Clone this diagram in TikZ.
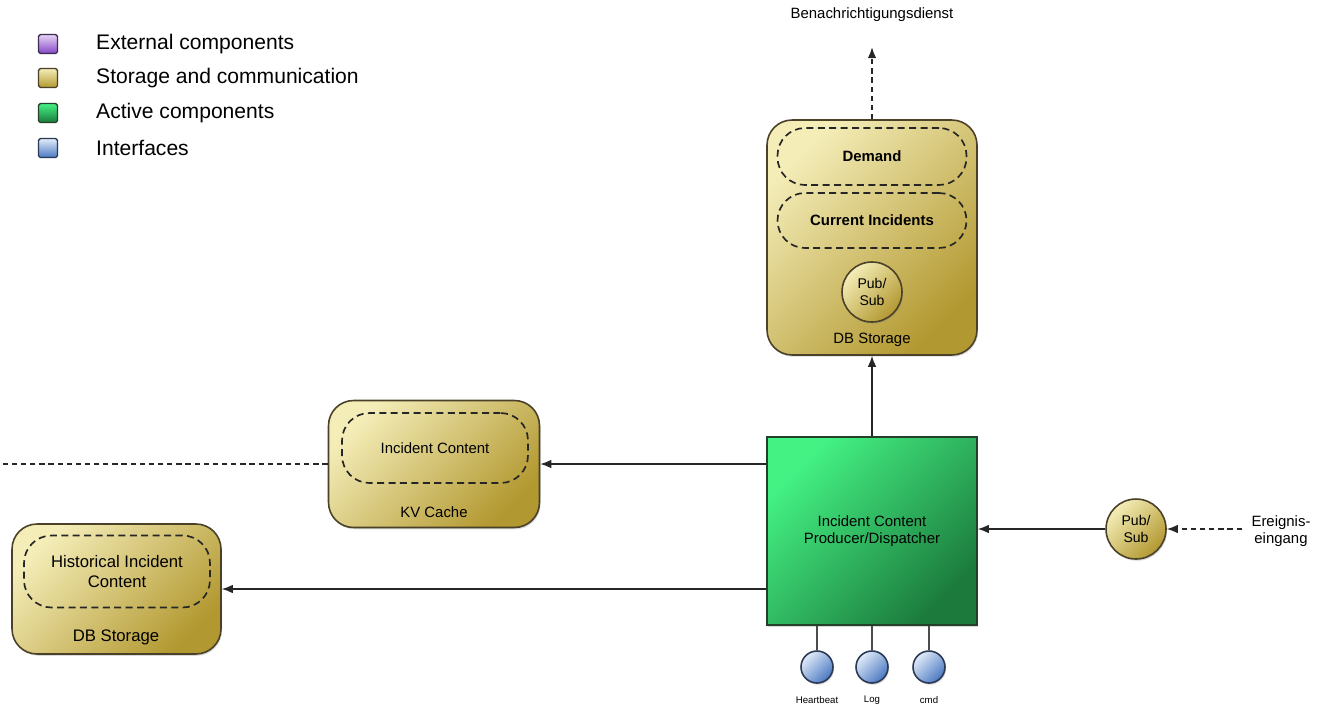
\documentclass[tikz,border=0pt]{standalone}
\usepackage{fontspec}
\setmainfont{Liberation Sans}
\usetikzlibrary{arrows.meta,shadows}

\definecolor{lightgold}{HTML}{F4EDB8}
\definecolor{darkgold}{HTML}{B29830}
\definecolor{drawgold}{HTML}{4A4128}
\definecolor{lightgreen}{HTML}{44F284}
\definecolor{darkgreen}{HTML}{1C7A3C}
\definecolor{drawgreen}{HTML}{24402A}
\definecolor{lightblue}{HTML}{E2ECF8}
\definecolor{darkblue}{HTML}{4A78C2}
\definecolor{drawblue}{HTML}{2A3A55}
\definecolor{lightpurple}{HTML}{E8D4F6}
\definecolor{darkpurple}{HTML}{8446C6}
\definecolor{drawpurple}{HTML}{3C2C4E}

\begin{document}
\begin{tikzpicture}[x=0.02cm,y=-0.02cm,
    >={Latex[length=2.2mm,width=1.7mm]},
    link/.style={line width=0.75pt,draw=black!85},
    dashlink/.style={link,dash pattern=on 3pt off 2.2pt},
    gold/.style={draw=drawgold,line width=0.9pt,top color=lightgold,bottom color=darkgold,shading angle=45},
    shade/.style={drop shadow={opacity=0.3,shadow xshift=0.6pt,shadow yshift=-1pt}},
    store/.style={gold,shade,rounded corners=0.5cm},
    part/.style={draw=black!85,dash pattern=on 4pt off 2.5pt,line width=0.95pt,rounded corners=0.55cm,align=center},
    lbl/.style={font=\fontsize{8.5}{10}\selectfont},
    pubsub/.style={gold,shade,circle,minimum size=1.2cm,inner sep=0pt,align=center,font=\fontsize{8}{10}\selectfont},
    iface/.style={circle,draw=drawblue,line width=0.9pt,top color=lightblue,bottom color=darkblue,shading angle=45,minimum size=0.64cm,shade},
    key/.style={minimum size=0.38cm,inner sep=0pt,rounded corners=1pt,line width=0.8pt,shading angle=45}]
\useasboundingbox (0,0) rectangle (1324,707);

% legend
\foreach \y/\c/\t [count=\i] in {44/purple/External components,78/gold/Storage and communication,113/green/Active components,148/blue/Interfaces} {
    \node[key,draw=draw\c,top color=light\c,bottom color=dark\c] (key\i) at (48,\y) {};
    \node[anchor=west,font=\fontsize{12}{14}\selectfont] (keytext\i) at (90,\y) {\t};
}

% storage for current incidents
\node[store,minimum width=4.2cm,minimum height=4.7cm] (db) at (872,237.5) {};
\node[part,minimum width=3.78cm,minimum height=1.14cm,font=\fontsize{8.5}{10}\selectfont\bfseries] (demand) at (872,156.5) {Demand};
\node[part,minimum width=3.78cm,minimum height=1.1cm,font=\fontsize{8.5}{10}\selectfont\bfseries] (current) at (872,220.5) {Current Incidents};
\node[pubsub] (ps1) at (872,292) {Pub/\\Sub};
\node[lbl] (dblbl) at (872,340) {DB Storage};
\node[lbl] (notify) at (872,15) {Benachrichtigungsdienst};
\draw[dashlink,->] (db.north) -- ([yshift=-0.38cm]notify.south);

% producer
\node[draw=drawgreen,line width=0.9pt,top color=lightgreen,bottom color=darkgreen,shading angle=45,shade,
      minimum width=4.2cm,minimum height=3.76cm,align=center,lbl] (main) at (872,531) {Incident Content\\Producer/Dispatcher};
\draw[link,->] (main.north) -- (db.south);

% kv cache
\node[store,minimum width=4.22cm,minimum height=2.54cm] (kv) at (434,464) {};
\node[part,minimum width=3.72cm,minimum height=1.4cm,lbl] (content) at (435,448) {Incident Content};
\node[lbl] (kvlbl) at (434,512) {KV Cache};
\coordinate (away) at (kv.west -| 0,0);
\draw[link,->] (main.west |- kv.east) -- (kv.east);
\draw[dashlink] (kv.west) -- (away);

% history
\node[store,minimum width=4.18cm,minimum height=2.6cm] (hist) at (116.5,589) {};
\node[part,minimum width=3.72cm,minimum height=1.44cm,font=\fontsize{9.5}{11}\selectfont] (histcontent) at (117,571.5) {Historical Incident\\Content};
\node[font=\fontsize{9.5}{11}\selectfont] (histlbl) at (116,637) {DB Storage};
\draw[link,->] (main.west |- hist.east) -- (hist.east);

% input
\node[pubsub] (ps2) at (1136,529) {Pub/\\Sub};
\node[lbl,align=center] (input) at (1281,531) {Ereignis-\\eingang};
\draw[link,->] (ps2.west) -- (main.east |- ps2.west);
\draw[dashlink,->] ([xshift=-2pt]ps2.east -| input.west) -- (ps2.east);

% interfaces
\foreach \x/\t [count=\i] in {817/Heartbeat,872/Log,929/cmd} {
    \node[iface] (if\i) at (\x,667) {};
    \draw[line width=0.9pt,draw=black!70] (main.south -| if\i.north) -- (if\i.north);
    \node[font=\fontsize{5.5}{6}\selectfont] (iflbl\i) at (\x,700) {\t};
}
\end{tikzpicture}
\end{document}
